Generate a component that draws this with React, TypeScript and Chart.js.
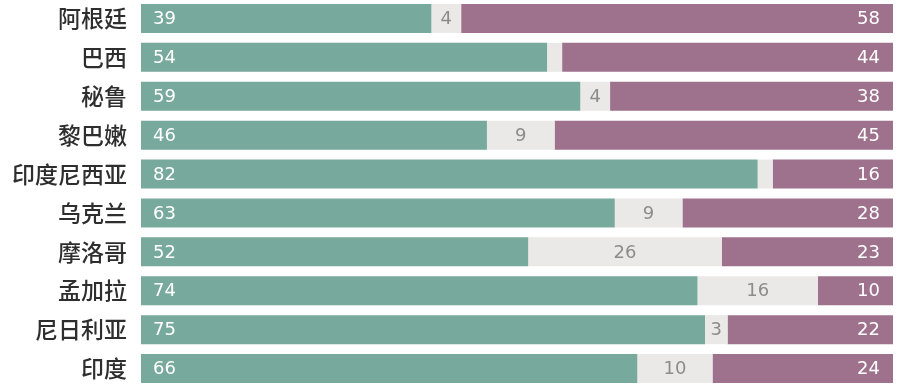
import React, { useEffect, useRef } from "react";
import { Chart, registerables } from "chart.js";

Chart.register(...registerables);

const categories = ["阿根廷", "巴西", "秘鲁", "黎巴嫩", "印度尼西亚", "乌克兰", "摩洛哥", "孟加拉", "尼日利亚", "印度"];
const greenValues = [39, 54, 59, 46, 82, 63, 52, 74, 75, 66];
const grayValues = [4, 2, 4, 9, 2, 9, 26, 16, 3, 10];
const grayLabels = ["4", "", "4", "9", "", "9", "26", "16", "3", "10"];
const purpleValues = [58, 44, 38, 45, 16, 28, 23, 10, 22, 24];

const GREEN = "#78a99d";
const GRAY = "#ebe9e7";
const PURPLE = "#9e718d";

export default function App() {
  const ref = useRef<HTMLCanvasElement | null>(null);

  useEffect(() => {
    if (!ref.current) return;
    const totals = categories.map((_, i) => greenValues[i] + grayValues[i] + purpleValues[i]);
    const share = (arr: number[]) => arr.map((v, i) => (v / totals[i]) * 100);

    const labelPlugin = {
      id: "segLabels",
      afterDatasetsDraw(chart: any) {
        const ctx = chart.ctx;
        ctx.save();
        ctx.font = '18px "DejaVu Sans", sans-serif';
        ctx.textBaseline = "middle";
        chart.data.datasets.forEach((ds: any, di: number) => {
          const meta = chart.getDatasetMeta(di);
          meta.data.forEach((el: any, i: number) => {
            const left = Math.min(el.base, el.x);
            const right = Math.max(el.base, el.x);
            const y = el.y + 1;
            if (di === 0) {
              ctx.fillStyle = "#ffffff";
              ctx.textAlign = "left";
              ctx.fillText(String(greenValues[i]), left + 12, y);
            } else if (di === 1) {
              const t = grayLabels[i];
              if (!t) return;
              ctx.fillStyle = "#8c8c8c";
              ctx.textAlign = "center";
              ctx.fillText(t, (left + right) / 2, y);
            } else {
              ctx.fillStyle = "#ffffff";
              ctx.textAlign = "right";
              ctx.fillText(String(purpleValues[i]), right - 13, y);
            }
          });
        });
        ctx.restore();
      },
    };

    const chart = new Chart(ref.current, {
      type: "bar",
      data: {
        labels: categories,
        datasets: [
          { data: share(greenValues), backgroundColor: GREEN },
          { data: share(grayValues), backgroundColor: GRAY },
          { data: share(purpleValues), backgroundColor: PURPLE },
        ],
      },
      options: {
        indexAxis: "y",
        animation: false,
        responsive: false,
        maintainAspectRatio: false,
        layout: { autoPadding: false, padding: { left: 0, right: 7, top: 0, bottom: 0 } },
        datasets: {
          bar: { barPercentage: 0.746, categoryPercentage: 1, borderWidth: 0 },
        },
        plugins: {
          legend: { display: false },
          tooltip: { enabled: false },
          title: { display: false },
        },
        scales: {
          x: {
            stacked: true,
            min: 0,
            max: 100,
            display: false,
          },
          y: {
            stacked: true,
            grid: { display: false, drawTicks: false },
            border: { display: false },
            ticks: {
              padding: 14,
              color: "#2e2e2e",
              font: { family: '"Noto Sans CJK SC", sans-serif', size: 23, weight: "500" },
            },
            afterFit: (scale: any) => {
              scale.width = 141;
              scale.paddingTop = 0;
              scale.paddingBottom = 0;
            },
          },
        },
      },
      plugins: [labelPlugin],
    });
    return () => chart.destroy();
  }, []);

  return (
    <div style={{ position: "fixed", left: 0, top: -1, width: 900, height: 389, background: "#ffffff" }}>
      <canvas ref={ref} width={900} height={389} style={{ width: 900, height: 389, display: "block" }} />
    </div>
  );
}
